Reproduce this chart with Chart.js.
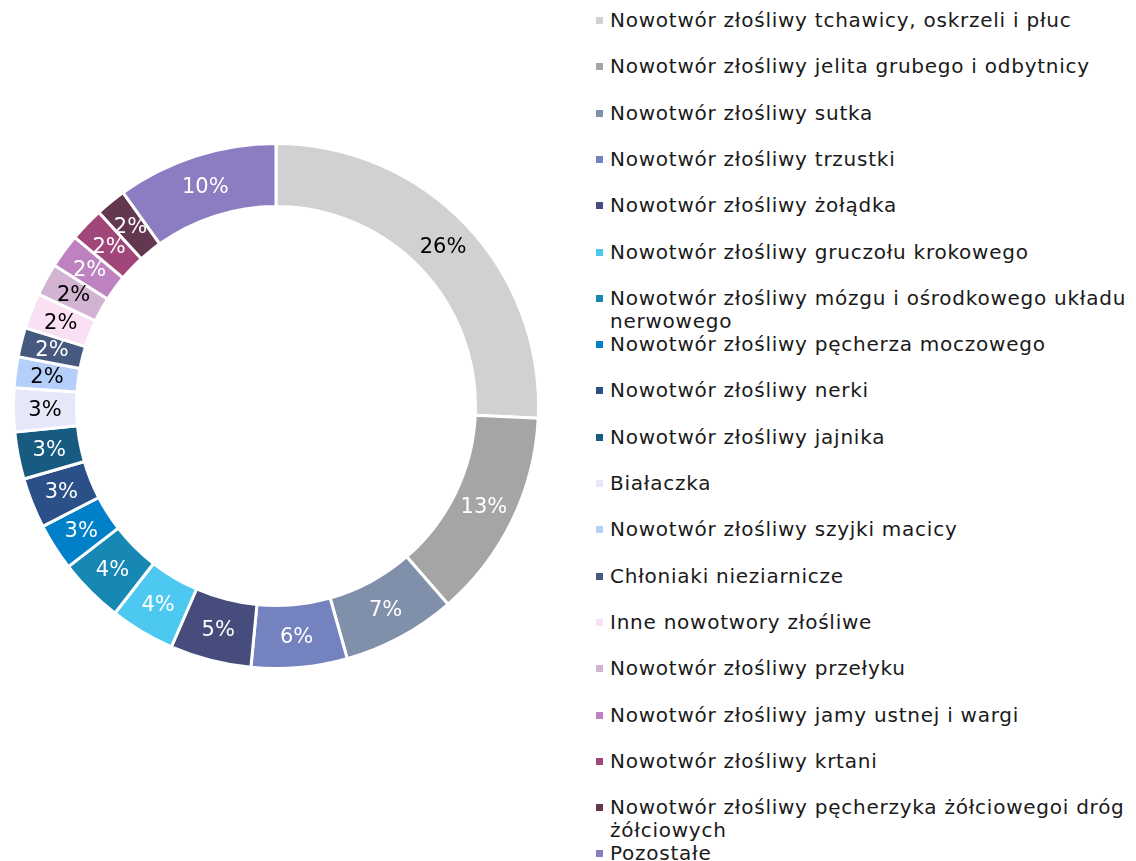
<!DOCTYPE html>
<html>
<head>
<meta charset="utf-8">
<script src="https://cdn.jsdelivr.net/npm/chart.js@4.4.0/dist/chart.umd.min.js"></script>
<style>
  html, body { margin: 0; padding: 0; background: #fff; }
  body { width: 1136px; height: 861px; position: relative; overflow: hidden; font-family: "DejaVu Sans", Verdana, sans-serif; }
  #chartBox { position: absolute; left: 12px; top: 142px; width: 528px; height: 528px; }
  #legend { position: absolute; left: 0; top: 0; }
  .item { position: absolute; left: 596px; width: 540px; font-size: 20px; letter-spacing: 0.75px; line-height: 23px; color: #1a1a1a; }
  .item span.txt { display: block; margin-left: 14px; }
  .item span.box { position: absolute; left: 0; top: 8px; width: 7px; height: 7px; }
</style>
</head>
<body>
<div id="chartBox"><canvas id="donut"></canvas></div>
<div id="legend"></div>
<script>
// Categories (legend order = slice order, clockwise from top)
const categories = [
    'Nowotwór złośliwy tchawicy, oskrzeli i płuc',
    'Nowotwór złośliwy jelita grubego i odbytnicy',
    'Nowotwór złośliwy sutka',
    'Nowotwór złośliwy trzustki',
    'Nowotwór złośliwy żołądka',
    'Nowotwór złośliwy gruczołu krokowego',
    'Nowotwór złośliwy mózgu i ośrodkowego układu nerwowego',
    'Nowotwór złośliwy pęcherza moczowego',
    'Nowotwór złośliwy nerki',
    'Nowotwór złośliwy jajnika',
    'Białaczka',
    'Nowotwór złośliwy szyjki macicy',
    'Chłoniaki nieziarnicze',
    'Inne nowotwory złośliwe',
    'Nowotwór złośliwy przełyku',
    'Nowotwór złośliwy jamy ustnej i wargi',
    'Nowotwór złośliwy krtani',
    'Nowotwór złośliwy pęcherzyka żółciowegoi dróg żółciowych',
    'Pozostałe'
];

// Share of deaths (%)
const shares = [25.75, 12.9, 7.0, 5.9, 5.0, 4.0, 4.0, 2.9, 3.1, 2.9, 2.7, 1.9, 1.8, 2.2, 2.0, 2.1, 2.1, 1.9, 9.9];

const sliceColors = [
    '#D0D1D3', '#A5A5A5', '#8190AA', '#7482C0', '#464C7C', '#4DC8F0', '#1787B4',
    '#0080C8', '#2A5087', '#175C80', '#E6E8FA', '#B4CFFA', '#465A80', '#FAE0F5',
    '#D2B4D2', '#BE82C0', '#A04678', '#643750', '#8C7DC3'
];

// slices whose percentage label is drawn in black
const darkLabel = [0, 10, 11, 13, 14];

// Legend rows built from the same arrays
const legend = document.getElementById('legend');
categories.forEach((name, i) => {
    const row = document.createElement('div');
    row.className = 'item';
    row.style.top = (9 + i * 46.3) + 'px';
    row.innerHTML = '<span class="box" style="background:' + sliceColors[i] + '"></span><span class="txt"></span>';
    row.querySelector('.txt').textContent = name;
    legend.appendChild(row);
});

// Draw rounded percentage labels inside each slice
const sliceLabels = {
    id: 'sliceLabels',
    afterDatasetsDraw(chart) {
        const ctx = chart.ctx;
        const meta = chart.getDatasetMeta(0);
        const total = shares.reduce((a, b) => a + b, 0);
        ctx.save();
        ctx.font = '21px "DejaVu Sans", Verdana, sans-serif';
        ctx.textAlign = 'center';
        ctx.textBaseline = 'middle';
        meta.data.forEach((arc, i) => {
            const p = arc.tooltipPosition();
            ctx.fillStyle = darkLabel.includes(i) ? '#000000' : '#ffffff';
            ctx.fillText(Math.round(shares[i] / total * 100) + '%', p.x, p.y + 1);
        });
        ctx.restore();
    }
};

new Chart(document.getElementById('donut'), {
    type: 'doughnut',
    data: {
        labels: categories,
        datasets: [{
            data: shares,
            backgroundColor: sliceColors,
            borderColor: '#ffffff',
            borderWidth: 3
        }]
    },
    options: {
        responsive: true,
        maintainAspectRatio: false,
        animation: false,
        cutout: '76%',
        layout: { padding: 0 },
        plugins: {
            legend: { display: false },
            tooltip: { enabled: false }
        }
    },
    plugins: [sliceLabels]
});
</script>
</body>
</html>
